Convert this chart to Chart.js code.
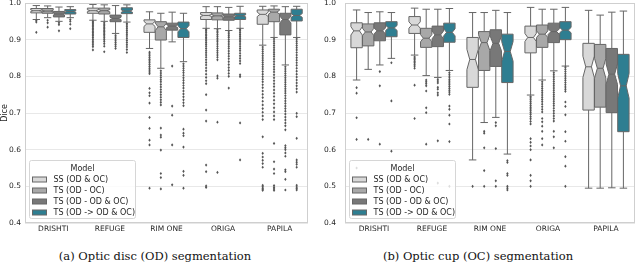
<!DOCTYPE html>
<html>
<head>
<meta charset="utf-8">
<script src="https://cdn.jsdelivr.net/npm/chart.js@4.4.1/dist/chart.umd.min.js"></script>
<style>
  body { margin: 0; background: #fff; }
  #wrap { position: relative; width: 640px; height: 264px; overflow: hidden; }
  canvas { position: absolute; top: 0; }
  #odChart { left: 0; }
  #ocChart { left: 320px; }
  .cap { position: absolute; top: 249px; width: 320px; text-align: center; font-family: "DejaVu Serif", serif; font-size: 11.5px; color: #111; }
</style>
</head>
<body>
<div id="wrap">
  <canvas id="odChart" width="320" height="240"></canvas>
  <canvas id="ocChart" width="320" height="240"></canvas>
  <div class="cap" style="left:-5px">(a) Optic disc (OD) segmentation</div>
  <div class="cap" style="left:318px">(b) Optic cup (OC) segmentation</div>
</div>
<script>
const categories = ["DRISHTI", "REFUGE", "RIM ONE", "ORIGA", "PAPILA"];
const models = ["SS (OD & OC)", "TS (OD - OC)", "TS (OD - OD & OC)", "TS (OD -> OD & OC)"];
const colors = ["#d8d8d8", "#a8a8a8", "#787878", "#2e7e91"];
// rough sample count per dataset, only used for the notch size
const testSizes = [90, 70, 60, 110, 98];

// box stats per dataset: [whisker low, q1, median, q3, whisker high]
const odSS  = [[0.955,0.973,0.979,0.985,0.993],[0.953,0.972,0.979,0.986,0.996],[0.876,0.920,0.943,0.954,0.976],[0.931,0.955,0.966,0.974,0.990],[0.885,0.942,0.969,0.981,0.991]];
const odTS1 = [[0.960,0.972,0.978,0.985,0.992],[0.950,0.970,0.979,0.986,0.995],[0.822,0.899,0.935,0.949,0.972],[0.930,0.954,0.965,0.973,0.990],[0.906,0.949,0.975,0.983,0.992]];
const odTS2 = [[0.950,0.962,0.970,0.977,0.989],[0.917,0.949,0.958,0.967,0.993],[0.894,0.926,0.937,0.945,0.975],[0.925,0.953,0.962,0.970,0.988],[0.831,0.913,0.955,0.972,0.990]];
const odTS3 = [[0.960,0.970,0.977,0.982,0.990],[0.948,0.971,0.978,0.987,0.995],[0.840,0.906,0.930,0.948,0.972],[0.931,0.955,0.965,0.972,0.991],[0.906,0.951,0.966,0.983,0.991]];

const ocSS  = [[0.790,0.878,0.924,0.946,0.981],[0.858,0.917,0.940,0.963,0.986],[0.572,0.770,0.846,0.906,0.974],[0.749,0.864,0.906,0.937,0.988],[0.495,0.708,0.826,0.890,0.980]];
const ocTS1 = [[0.819,0.883,0.921,0.943,0.974],[0.802,0.879,0.904,0.931,0.983],[0.674,0.816,0.892,0.922,0.974],[0.790,0.879,0.915,0.940,0.983],[0.495,0.716,0.822,0.887,0.967]];
const ocTS2 = [[0.831,0.897,0.924,0.946,0.976],[0.797,0.881,0.913,0.937,0.983],[0.688,0.827,0.890,0.927,0.980],[0.815,0.892,0.922,0.945,0.983],[0.496,0.701,0.806,0.876,0.975]];
const ocTS3 = [[0.849,0.908,0.932,0.949,0.974],[0.816,0.893,0.920,0.945,0.985],[0.588,0.783,0.868,0.915,0.974],[0.828,0.900,0.926,0.949,0.988],[0.495,0.649,0.774,0.860,0.978]];

// outliers per dataset
const odSSOut = [
  [0.952, 0.948, 0.920],
  [0.950, 0.946, 0.943, 0.939, 0.935, 0.931, 0.927, 0.923, 0.919, 0.915, 0.911, 0.906, 0.901, 0.896, 0.891, 0.886, 0.881, 0.872],
  [0.866, 0.861, 0.856, 0.851, 0.846, 0.842, 0.837, 0.832, 0.827, 0.822, 0.817, 0.812, 0.807, 0.767, 0.755, 0.747, 0.727, 0.688, 0.658, 0.626, 0.613, 0.495],
  [0.928, 0.924, 0.920, 0.915, 0.911, 0.906, 0.902, 0.897, 0.892, 0.887, 0.882, 0.876, 0.870, 0.864, 0.858, 0.852, 0.845, 0.838, 0.831, 0.823, 0.815, 0.806, 0.797, 0.788, 0.780, 0.750, 0.708, 0.678, 0.558, 0.540, 0.501, 0.497],
  [0.880, 0.874, 0.868, 0.862, 0.856, 0.850, 0.844, 0.838, 0.832, 0.826, 0.820, 0.813, 0.806, 0.799, 0.792, 0.785, 0.777, 0.769, 0.760, 0.751, 0.742, 0.732, 0.722, 0.712, 0.702, 0.692, 0.682, 0.635, 0.590, 0.580, 0.571, 0.562, 0.552, 0.503, 0.499, 0.495, 0.492, 0.489]
];
const odTS1Out = [
  [0.953, 0.946, 0.934],
  [0.946, 0.942, 0.938, 0.934, 0.930, 0.926, 0.922, 0.918, 0.914, 0.910, 0.905, 0.900, 0.895, 0.889, 0.882, 0.867],
  [0.815, 0.809, 0.803, 0.797, 0.791, 0.785, 0.778, 0.771, 0.764, 0.757, 0.750, 0.743, 0.736, 0.729, 0.722, 0.659, 0.640, 0.634, 0.599, 0.535, 0.524, 0.493],
  [0.927, 0.923, 0.919, 0.914, 0.909, 0.904, 0.899, 0.894, 0.888, 0.882, 0.876, 0.870, 0.864, 0.858, 0.852, 0.845, 0.801, 0.795, 0.675, 0.538],
  [0.902, 0.896, 0.890, 0.884, 0.878, 0.872, 0.866, 0.860, 0.854, 0.847, 0.840, 0.833, 0.826, 0.819, 0.812, 0.804, 0.796, 0.788, 0.780, 0.772, 0.763, 0.754, 0.745, 0.735, 0.725, 0.714, 0.703, 0.692, 0.682, 0.617, 0.567, 0.547, 0.535, 0.502, 0.497, 0.493, 0.489]
];
const odTS2Out = [
  [0.946, 0.941, 0.924],
  [0.912, 0.907, 0.902, 0.897, 0.892, 0.887, 0.882, 0.876],
  [0.828, 0.719, 0.694, 0.613, 0.504],
  [0.921, 0.916, 0.911, 0.906, 0.900, 0.894, 0.888, 0.882, 0.876, 0.869, 0.862, 0.855, 0.848, 0.840, 0.832, 0.824, 0.816, 0.808, 0.800, 0.768],
  [0.826, 0.820, 0.814, 0.808, 0.802, 0.796, 0.790, 0.784, 0.778, 0.772, 0.766, 0.760, 0.754, 0.747, 0.740, 0.733, 0.726, 0.719, 0.712, 0.705, 0.697, 0.689, 0.681, 0.673, 0.665, 0.654, 0.611, 0.605, 0.600, 0.591, 0.582, 0.545, 0.540, 0.519, 0.490]
];
const odTS3Out = [
  [0.955, 0.950, 0.942, 0.930],
  [0.944, 0.940, 0.935, 0.930, 0.925, 0.920, 0.915, 0.910, 0.904, 0.898, 0.892, 0.886, 0.880, 0.873, 0.865],
  [0.834, 0.828, 0.822, 0.816, 0.810, 0.803, 0.796, 0.789, 0.782, 0.775, 0.768, 0.760, 0.752, 0.744, 0.736, 0.728, 0.720, 0.656, 0.645, 0.638, 0.607, 0.541, 0.530, 0.495],
  [0.928, 0.924, 0.919, 0.914, 0.909, 0.904, 0.899, 0.894, 0.888, 0.882, 0.876, 0.870, 0.863, 0.856, 0.849, 0.842, 0.835, 0.804, 0.799, 0.673, 0.572],
  [0.902, 0.896, 0.890, 0.884, 0.878, 0.872, 0.865, 0.858, 0.851, 0.844, 0.837, 0.830, 0.822, 0.814, 0.806, 0.798, 0.790, 0.782, 0.774, 0.766, 0.757, 0.699, 0.690, 0.631, 0.572, 0.566, 0.560, 0.552, 0.503, 0.498, 0.494, 0.490]
];

const ocSSOut = [
  [0.769, 0.754, 0.687, 0.628, 0.550],
  [0.853, 0.849, 0.845, 0.841, 0.837, 0.833, 0.828, 0.822, 0.776, 0.685],
  [0.500],
  [0.745, 0.741, 0.736, 0.731, 0.726, 0.721, 0.716, 0.711, 0.706, 0.701, 0.696, 0.690, 0.684, 0.677, 0.670, 0.630, 0.620, 0.610, 0.600, 0.572, 0.530, 0.515, 0.500],
  []
];
const ocTS1Out = [
  [0.628],
  [0.790, 0.785, 0.780, 0.774, 0.760, 0.714, 0.701, 0.615],
  [0.650, 0.645, 0.605, 0.543, 0.500],
  [0.785, 0.779, 0.773, 0.767, 0.761, 0.755, 0.749, 0.743, 0.737, 0.731, 0.724, 0.717, 0.710, 0.703, 0.685, 0.676, 0.664, 0.650, 0.630, 0.613],
  []
];
const ocTS2Out = [
  [0.813, 0.774, 0.615],
  [0.792, 0.787, 0.782, 0.770, 0.765, 0.755, 0.749, 0.624, 0.509],
  [0.674, 0.665, 0.603, 0.515, 0.500],
  [0.810, 0.804, 0.798, 0.792, 0.786, 0.780, 0.774, 0.768, 0.762, 0.756, 0.750, 0.744, 0.738, 0.732, 0.726, 0.720, 0.713, 0.706, 0.699, 0.692, 0.685, 0.678, 0.650, 0.635, 0.605],
  []
];
const ocTS3Out = [
  [0.837, 0.733, 0.596],
  [0.810, 0.804, 0.798, 0.792, 0.787, 0.782, 0.777, 0.772, 0.767, 0.762, 0.757, 0.751, 0.719, 0.710, 0.694, 0.670, 0.622, 0.500],
  [0.570, 0.565, 0.535, 0.530, 0.500, 0.495, 0.490],
  [0.825, 0.819, 0.813, 0.807, 0.801, 0.795, 0.789, 0.783, 0.777, 0.771, 0.765, 0.759, 0.730, 0.718, 0.695, 0.649, 0.623, 0.581, 0.555, 0.500],
  []
];

const lineColor = "#666666";
const textColor = "#262626";
const font = "DejaVu Sans";

// draws notched boxes, whiskers, fliers, frame and legend
const boxPlot = {
  id: "boxPlot",
  afterDatasetsDraw(chart) {
    const ctx = chart.ctx;
    const ys = chart.scales.y;
    const a = chart.chartArea;
    ctx.save();
    ctx.beginPath();
    ctx.rect(a.left, a.top, a.right - a.left, a.bottom - a.top);
    ctx.clip();
    ctx.lineWidth = 1;
    chart.data.datasets.forEach((ds, k) => {
      const meta = chart.getDatasetMeta(k);
      meta.data.forEach((bar, i) => {
        const [lo, q1, med, q3, hi] = ds.stats[i];
        const x = bar.x, w = bar.width;
        const L = x - w / 2, R = x + w / 2, ind = w / 4;
        const notch = 1.57 * (q3 - q1) / Math.sqrt(testSizes[i]);
        const Y = v => ys.getPixelForValue(v);
        const cw = w * 0.33;

        // whiskers
        ctx.strokeStyle = lineColor;
        ctx.beginPath();
        ctx.moveTo(x, Y(q1)); ctx.lineTo(x, Y(lo));
        ctx.moveTo(x, Y(q3)); ctx.lineTo(x, Y(hi));
        ctx.moveTo(x - cw, Y(lo)); ctx.lineTo(x + cw, Y(lo));
        ctx.moveTo(x - cw, Y(hi)); ctx.lineTo(x + cw, Y(hi));
        ctx.stroke();

        // notched box
        ctx.beginPath();
        ctx.moveTo(L, Y(q1));
        ctx.lineTo(R, Y(q1));
        ctx.lineTo(R, Y(med - notch));
        ctx.lineTo(R - ind, Y(med));
        ctx.lineTo(R, Y(med + notch));
        ctx.lineTo(R, Y(q3));
        ctx.lineTo(L, Y(q3));
        ctx.lineTo(L, Y(med + notch));
        ctx.lineTo(L + ind, Y(med));
        ctx.lineTo(L, Y(med - notch));
        ctx.closePath();
        ctx.fillStyle = ds.boxColor;
        ctx.fill();
        ctx.stroke();

        // median
        ctx.beginPath();
        ctx.moveTo(L + ind, Y(med));
        ctx.lineTo(R - ind, Y(med));
        ctx.stroke();

        // fliers
        ctx.fillStyle = "#555555";
        ds.outliers[i].forEach(v => {
          const py = Y(v);
          ctx.beginPath();
          ctx.moveTo(x, py - 1.6);
          ctx.lineTo(x + 1.2, py);
          ctx.lineTo(x, py + 1.6);
          ctx.lineTo(x - 1.2, py);
          ctx.closePath();
          ctx.fill();
        });
      });
    });
    ctx.restore();
  },
  afterDraw(chart) {
    const ctx = chart.ctx;
    const a = chart.chartArea;
    ctx.save();
    // axes frame
    ctx.strokeStyle = "#cfcfcf";
    ctx.lineWidth = 1;
    ctx.strokeRect(Math.round(a.left) + 0.5, Math.round(a.top) + 0.5,
      Math.round(a.right - a.left) - 1, Math.round(a.bottom - a.top) - 1);

    // legend box in lower left corner
    const lx = Math.round(a.left) + 4.5, lw = 106, lh = 58;
    const ly = Math.round(a.bottom) - 5 - lh + 0.5;
    ctx.fillStyle = "rgba(255,255,255,0.8)";
    ctx.strokeStyle = "#d6d6d6";
    ctx.beginPath();
    ctx.roundRect(lx, ly, lw, lh, 2);
    ctx.fill();
    ctx.stroke();
    ctx.fillStyle = textColor;
    ctx.font = "8px '" + font + "'";
    ctx.textBaseline = "middle";
    ctx.textAlign = "center";
    ctx.fillText("Model", lx + lw / 2, ly + 8);
    ctx.textAlign = "left";
    chart.data.datasets.forEach((ds, k) => {
      const ry = ly + 19 + k * 11;
      ctx.fillStyle = ds.boxColor;
      ctx.strokeStyle = lineColor;
      ctx.fillRect(lx + 3, ry - 2.5, 14, 5);
      ctx.strokeRect(lx + 3, ry - 2.5, 14, 5);
      ctx.fillStyle = textColor;
      ctx.fillText(ds.label, lx + 24, ry);
    });
    ctx.restore();
  }
};

function makeChart(id, stats, outs, showTitle, padRight, tickPad) {
  return new Chart(document.getElementById(id), {
    type: "bar",
    data: {
      labels: categories,
      datasets: models.map((m, k) => ({
        label: m,
        data: stats[k].map(s => [s[1], s[3]]),
        stats: stats[k],
        outliers: outs[k],
        boxColor: colors[k],
        backgroundColor: "rgba(0,0,0,0)",
        borderWidth: 0,
        barPercentage: 0.98,
        categoryPercentage: 0.8
      }))
    },
    options: {
      responsive: false,
      animation: false,
      layout: { padding: { top: 3, right: padRight, left: 0, bottom: 0 } },
      plugins: {
        legend: { display: false },
        tooltip: { enabled: false }
      },
      scales: {
        x: {
          grid: { display: false, drawTicks: false },
          border: { display: false },
          ticks: { color: textColor, font: { family: font, size: 7.5 }, padding: 2 },
          afterFit: s => { s.height = 17; }
        },
        y: {
          min: 0.4,
          max: 1.0,
          grid: { color: "#e8e8e8", drawTicks: false },
          border: { display: false },
          ticks: {
            stepSize: 0.1,
            color: textColor,
            font: { family: font, size: 7.5 },
            padding: tickPad,
            callback: v => v.toFixed(1)
          },
          title: { display: showTitle, text: "Dice", color: textColor, font: { family: font, size: 8 }, padding: 0 },
          afterFit: s => { s.width = 25; s.paddingTop = 0; s.paddingBottom = 0; }
        }
      }
    },
    plugins: [boxPlot]
  });
}

makeChart("odChart", [odSS, odTS1, odTS2, odTS3], [odSSOut, odTS1Out, odTS2Out, odTS3Out], true, 12, 4);
makeChart("ocChart", [ocSS, ocTS1, ocTS2, ocTS3], [ocSSOut, ocTS1Out, ocTS2Out, ocTS3Out], false, 5, 9);
</script>
</body>
</html>
